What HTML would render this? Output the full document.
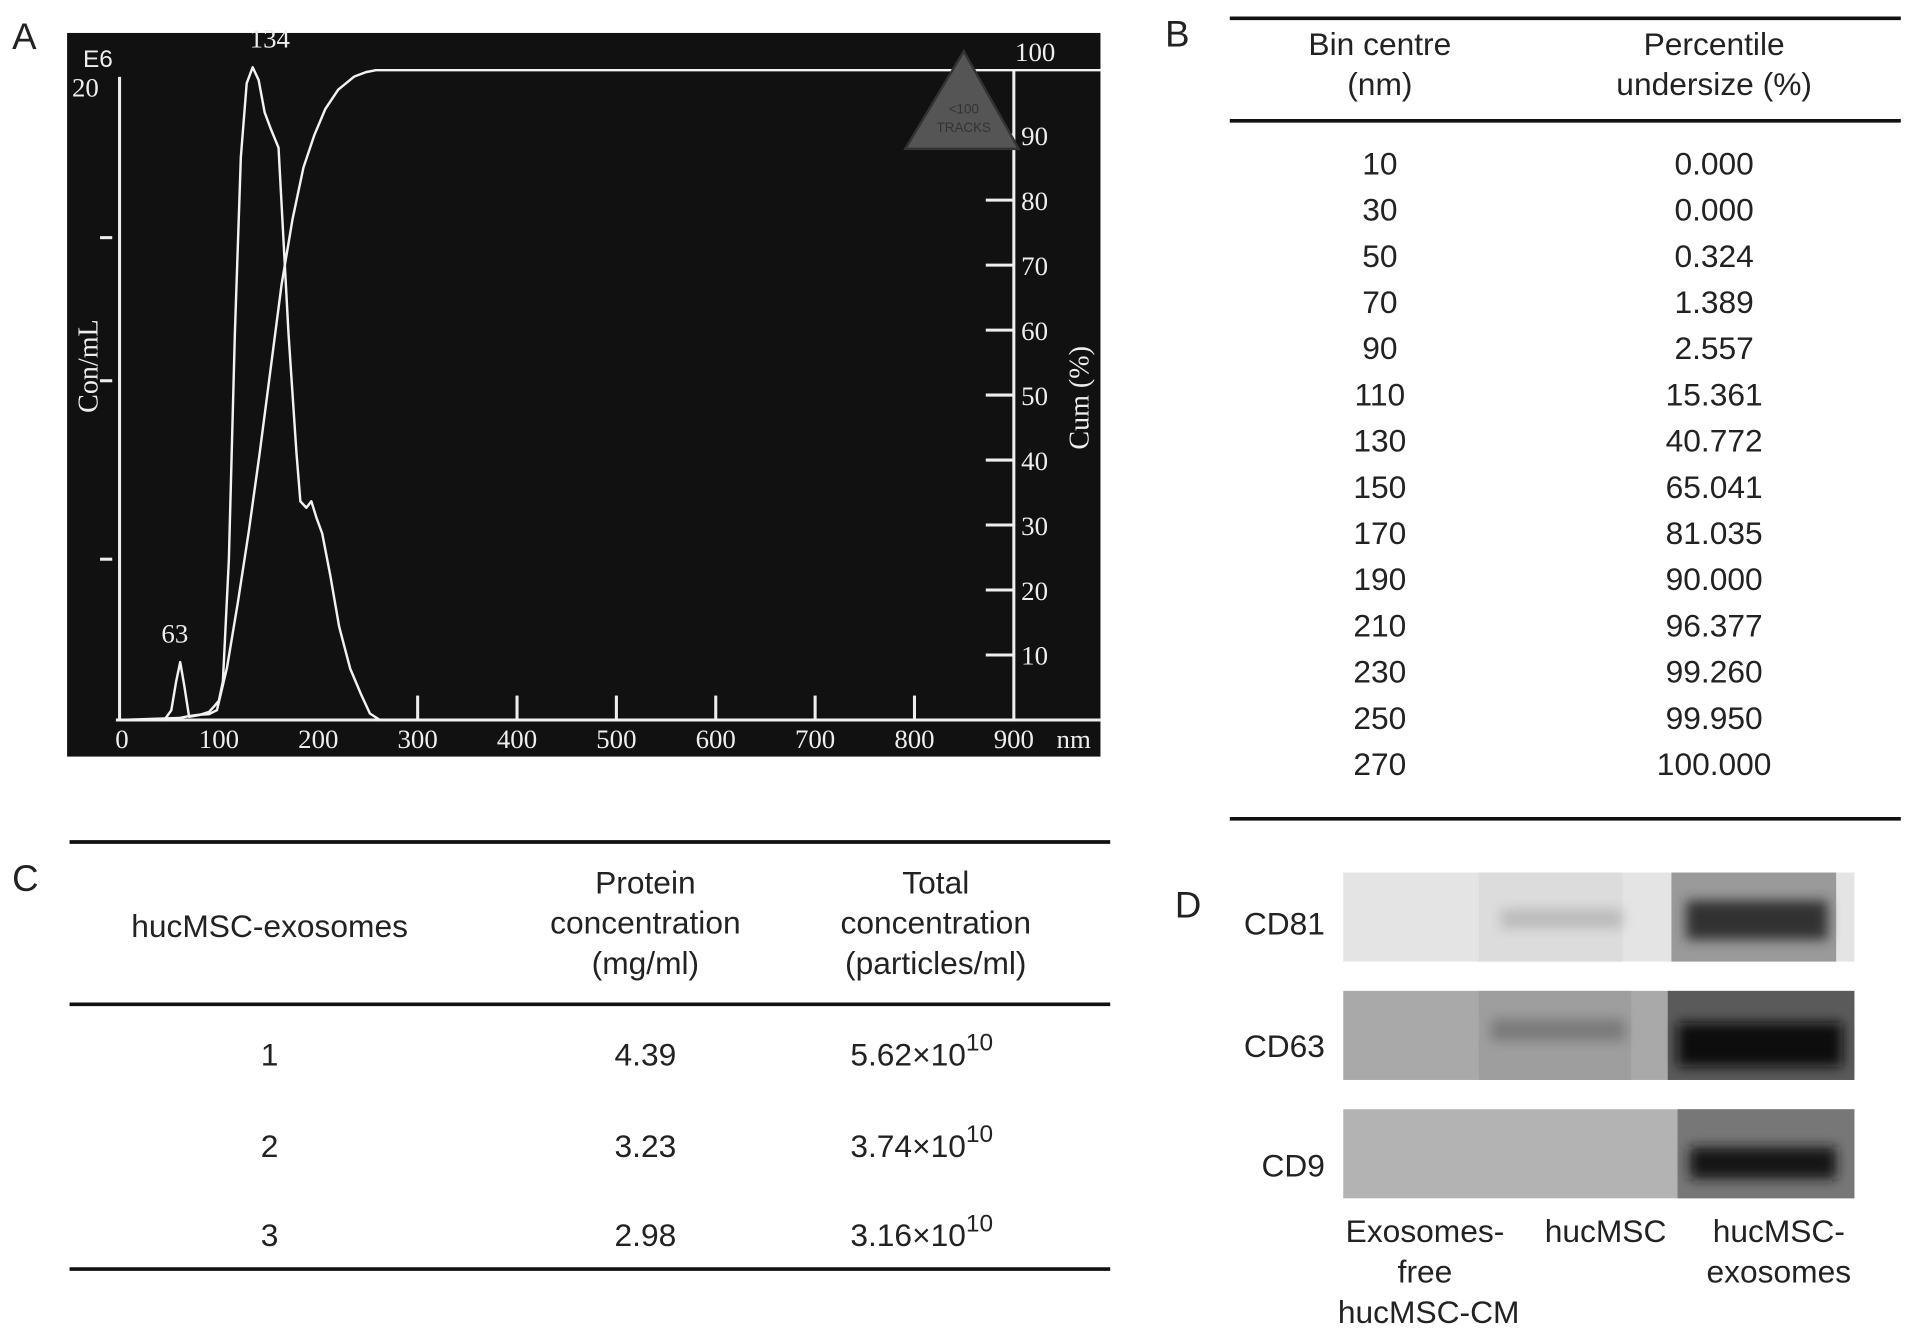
<!DOCTYPE html>
<html><head><meta charset="utf-8"><style>
html,body{margin:0;padding:0;background:#fff;}
svg{display:block;}
.s{font-family:"Liberation Sans",sans-serif;fill:#222;}
.w{font-family:"Liberation Serif",serif;fill:#eee;}
</style></head><body>
<svg id="fig" width="1913" height="1335" viewBox="0 0 1568 1094" preserveAspectRatio="none" xmlns="http://www.w3.org/2000/svg">
<defs>
<filter id="bl" x="-20%" y="-50%" width="140%" height="200%"><feGaussianBlur stdDeviation="5"/></filter>
</defs>
<text x="10" y="40" class="s" font-size="30">A</text>
<text x="955" y="38" class="s" font-size="30">B</text>
<text x="10" y="730" class="s" font-size="30">C</text>
<text x="963" y="752" class="s" font-size="30">D</text>

<g id="chartA">
<rect x="55" y="27" width="847" height="593" fill="#111"/>
</g>

<g>
<line x1="1008" y1="15" x2="1558" y2="15" stroke="#111" stroke-width="3"/>
<text x="1131" y="45" class="s" font-size="26" text-anchor="middle">Bin centre</text>
<text x="1131" y="78" class="s" font-size="26" text-anchor="middle">(nm)</text>
<text x="1405" y="45" class="s" font-size="26" text-anchor="middle">Percentile</text>
<text x="1405" y="78" class="s" font-size="26" text-anchor="middle">undersize (%)</text>
<line x1="1008" y1="99" x2="1558" y2="99" stroke="#111" stroke-width="3"/>
<g id="tbRows"></g>
<line x1="1008" y1="671" x2="1558" y2="671" stroke="#111" stroke-width="3"/>
</g>

<g>
<line x1="57" y1="690" x2="910" y2="690" stroke="#111" stroke-width="3"/>
<text x="221" y="768" class="s" font-size="26" text-anchor="middle">hucMSC-exosomes</text>
<text x="529" y="732" class="s" font-size="26" text-anchor="middle">Protein</text>
<text x="529" y="765" class="s" font-size="26" text-anchor="middle">concentration</text>
<text x="529" y="798" class="s" font-size="26" text-anchor="middle">(mg/ml)</text>
<text x="767" y="732" class="s" font-size="26" text-anchor="middle">Total</text>
<text x="767" y="765" class="s" font-size="26" text-anchor="middle">concentration</text>
<text x="767" y="798" class="s" font-size="26" text-anchor="middle">(particles/ml)</text>
<line x1="57" y1="823" x2="910" y2="823" stroke="#111" stroke-width="3"/>
<g id="tcRows"></g>
<line x1="57" y1="1040" x2="910" y2="1040" stroke="#111" stroke-width="3"/>
</g>

<g>
<g>
<rect x="1101" y="715" width="419" height="73" fill="#e4e4e4"/>
<rect x="1212" y="715" width="118" height="73" fill="#dcdcdc"/>
<rect x="1230" y="745" width="100" height="16" fill="#bbb" filter="url(#bl)"/>
<rect x="1370" y="715" width="135" height="73" fill="#9a9a9a"/>
<rect x="1382" y="738" width="116" height="32" fill="#333" filter="url(#bl)"/>
</g>
<g>
<rect x="1101" y="812" width="419" height="73" fill="#a9a9a9"/>
<rect x="1212" y="812" width="125" height="73" fill="#9e9e9e"/>
<rect x="1222" y="835" width="110" height="18" fill="#7a7a7a" filter="url(#bl)"/>
<rect x="1367" y="812" width="153" height="73" fill="#5a5a5a"/>
<rect x="1375" y="838" width="135" height="36" fill="#080808" filter="url(#bl)"/>
</g>
<g>
<rect x="1101" y="909" width="419" height="73" fill="#b3b3b3"/>
<rect x="1375" y="909" width="145" height="73" fill="#777"/>
<rect x="1385" y="940" width="120" height="26" fill="#151515" filter="url(#bl)"/>
</g>
<text x="1086" y="766" class="s" font-size="26" text-anchor="end">CD81</text>
<text x="1086" y="866" class="s" font-size="26" text-anchor="end">CD63</text>
<text x="1086" y="964" class="s" font-size="26" text-anchor="end">CD9</text>
<text x="1168" y="1018" class="s" font-size="26" text-anchor="middle">Exosomes-</text>
<text x="1168" y="1051" class="s" font-size="26" text-anchor="middle">free</text>
<text x="1171" y="1084" class="s" font-size="26" text-anchor="middle">hucMSC-CM</text>
<text x="1316" y="1018" class="s" font-size="26" text-anchor="middle">hucMSC</text>
<text x="1458" y="1018" class="s" font-size="26" text-anchor="middle">hucMSC-</text>
<text x="1458" y="1051" class="s" font-size="26" text-anchor="middle">exosomes</text>
</g>
</svg>
<script>
// Panel A data
const conSizes = [0,45,52,57,61,65,70,80,90,96,100,104,110,116,122,128,134,140,146,152,160,170,178,182,188,193,198,204,212,221,232,243,252,262,300,900];
const conValues = [0,0,0.3,1.2,1.8,1.1,0.1,0.15,0.25,0.45,0.6,1.2,5,12,17.5,19.8,20.3,19.9,18.9,18.4,17.8,12,8.3,6.8,6.6,6.8,6.3,5.8,4.5,2.9,1.6,0.8,0.2,0,0,0];
const cumSizes = [0,60,70,80,90,98,108,119,130,141,152,163,174,185,196,207,220,236,248,258,900];
const cumValues = [0,0.3,0.6,0.8,0.9,1.5,8,18,29,41,54,67,77,85,90,94,97,99,99.7,100,100];
const xTicks = [0,100,200,300,400,500,600,700,800,900];
const cumTicks = [10,20,30,40,50,60,70,80,90];
const conTicks = [5,10.55,15];
const peakLabels = [63,134];
const tableBins = ["10","30","50","70","90","110","130","150","170","190","210","230","250","270"];
const tablePct = ["0.000","0.000","0.324","1.389","2.557","15.361","40.772","65.041","81.035","90.000","96.377","99.260","99.950","100.000"];
const tableSample = ["1","2","3"];
const tableProtein = ["4.39","3.23","2.98"];
const tableTotalMant = ["5.62","3.74","3.16"];
const tableTotalExp = ["10","10","10"];

const NS="http://www.w3.org/2000/svg";
function mk(tag,attrs,parent){const e=document.createElementNS(NS,tag);for(const k in attrs)e.setAttribute(k,attrs[k]);parent.appendChild(e);return e;}
const g=document.getElementById('chartA');
const X=v=>98+v*(831-98)/900;
const Yc=v=>590-v*(590-63)/20;
const Yp=v=>590-v*(590-57.5)/100;
let e;
e=mk('line',{x1:95,y1:590,x2:902,y2:590,stroke:'#eee','stroke-width':2.5},g);


e=mk('line',{x1:98,y1:63,x2:98,y2:590,stroke:'#eee','stroke-width':2.5},g);


e=mk('line',{x1:831,y1:57,x2:831,y2:590,stroke:'#eee','stroke-width':2.5},g);


conTicks.forEach(t=>{const y=Yc(t);
 e=mk('line',{x1:82,y1:y,x2:92,y2:y,stroke:'#eee','stroke-width':2.5},g);
 
 });
cumTicks.forEach(t=>{const y=Yp(t);
 e=mk('line',{x1:808,y1:y,x2:831,y2:y,stroke:'#eee','stroke-width':2.5},g);
 
 
 e=mk('text',{x:837,y:y+8,class:'w','font-size':22},g);e.textContent=String(t);
 
 });
xTicks.forEach(t=>{const x=X(t);
 if(t>=300&&t<900){e=mk('line',{x1:x,y1:570,x2:x,y2:590,stroke:'#eee','stroke-width':2.5},g);
 
 }
 e=mk('text',{x:x+(t===0?2:0),y:613,class:'w','font-size':22,'text-anchor':'middle'},g);e.textContent=String(t);
 
 });
function lab(txt,attrs,name){e=mk('text',attrs,g);e.textContent=txt;
 
 }
lab('nm',{x:866,y:613,class:'w','font-size':22},'x-unit-label');
lab('100',{x:832,y:50,class:'w','font-size':22},'right-top-label');
lab('20',{x:59,y:79,class:'w','font-size':22},'left-top-label');
lab('E6',{x:68,y:55,'font-family':'Liberation Sans,sans-serif','font-size':20,fill:'#eee'},'exponent-label');
lab('Con/mL',{x:80,y:300,class:'w','font-size':23,'text-anchor':'middle',transform:'rotate(-90 80 300)'},'left-axis-title');
lab('Cum (%)',{x:892,y:326,class:'w','font-size':23,'text-anchor':'middle',transform:'rotate(-90 892 326)'},'right-axis-title');
let d=conSizes.map((s,i)=>(i?'L':'M')+X(s).toFixed(1)+' '+Yc(conValues[i]).toFixed(1)).join(' ');
e=mk('path',{d:d,fill:'none',stroke:'#f2f2f2','stroke-width':2,'stroke-linejoin':'round'},g);


d=cumSizes.map((s,i)=>(i?'L':'M')+X(s).toFixed(1)+' '+Yp(cumValues[i]).toFixed(1)).join(' ');
e=mk('path',{d:d+' L902 '+Yp(100),fill:'none',stroke:'#f2f2f2','stroke-width':2,'stroke-linejoin':'round'},g);


peakLabels.forEach(p=>{const i=conSizes.indexOf(p===63?61:134);
 lab(String(p),{x:X(p)+(p===63?-6:14),y:Yc(conValues[i])-16,class:'w','font-size':22,'text-anchor':'middle'},'peak-label');});
e=mk('polygon',{points:'790,42 742,122 835,122',fill:'#555',stroke:'#333','stroke-width':2},g);


lab('<100',{x:790,y:93,'font-family':'Liberation Sans,sans-serif','font-size':11,fill:'#333','text-anchor':'middle'},'tracks-warning-text');
lab('TRACKS',{x:790,y:108,'font-family':'Liberation Sans,sans-serif','font-size':11,fill:'#333','text-anchor':'middle'},'tracks-warning-text-2');
const tb=document.getElementById('tbRows');
tableBins.forEach((b,i)=>{const y=143+i*37.85;
 e=mk('text',{x:1131,y:y,class:'s','font-size':26,'text-anchor':'middle'},tb);e.textContent=b;
 
 
 e=mk('text',{x:1405,y:y,class:'s','font-size':26,'text-anchor':'middle'},tb);e.textContent=tablePct[i];
 
 });
const tc=document.getElementById('tcRows');
const rowY=[873,948,1021];
tableSample.forEach((s,i)=>{const y=rowY[i];
 e=mk('text',{x:221,y:y,class:'s','font-size':26,'text-anchor':'middle'},tc);e.textContent=s;
 
 
 e=mk('text',{x:529,y:y,class:'s','font-size':26,'text-anchor':'middle'},tc);e.textContent=tableProtein[i];
 
 
 e=mk('text',{x:697,y:y,class:'s','font-size':26},tc);
 
 
 const t1=mk('tspan',{},e);t1.textContent=tableTotalMant[i]+'\u00d710';
 const t2=mk('tspan',{dy:-12,'font-size':20},e);t2.textContent=tableTotalExp[i];});
</script>
</body></html>
